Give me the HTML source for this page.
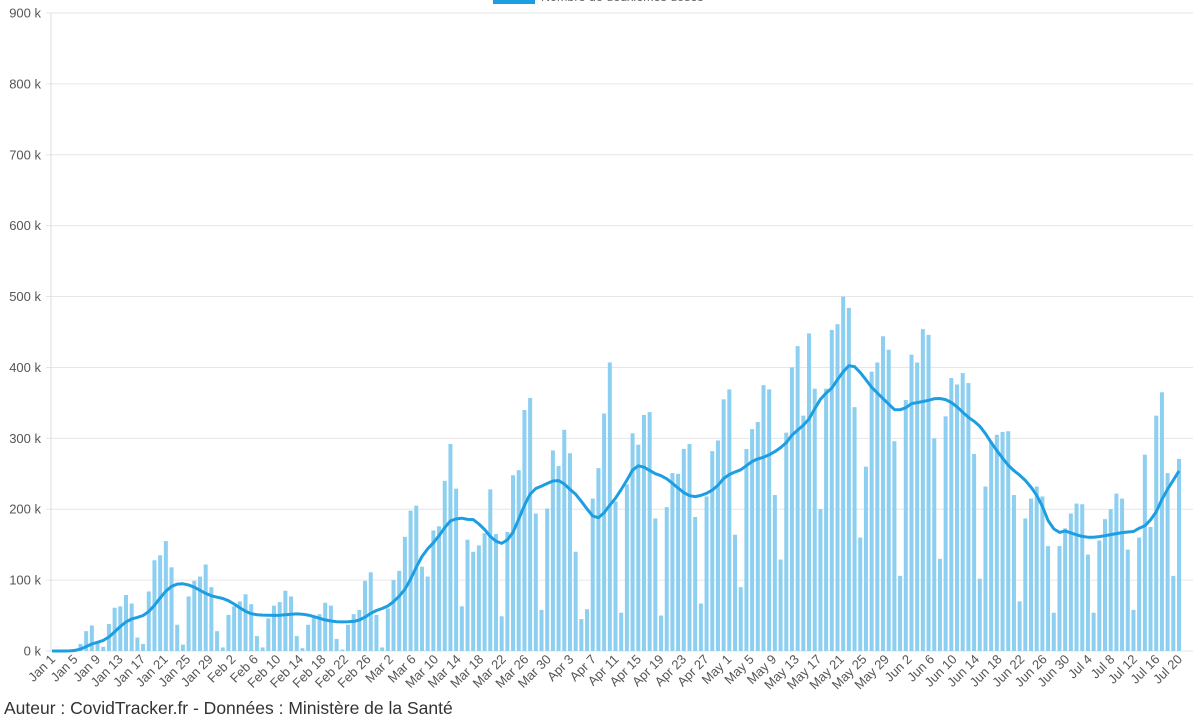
<!DOCTYPE html>
<html><head><meta charset="utf-8"><style>
html,body{margin:0;padding:0;background:#fff;width:1200px;height:720px;overflow:hidden}
svg{display:block;font-family:"Liberation Sans",Arial,sans-serif}
</style></head><body>
<svg id="c" width="1200" height="720" xmlns="http://www.w3.org/2000/svg"></svg>
<script>
var d=[0,0,0,0,3,10,28,36,11,6,38,61,63,79,67,19,10,84,128,135,155,118,37,9,77,99,105,122,90,28,5,51,63,70,80,66,21,5,46,64,69,85,77,21,4,37,47,52,68,64,17,2,37,52,58,99,111,51,5,60,100,113,161,198,205,
119,105,170,176,240,292,229,63,157,140,149,166,228,165,49,168,248,255,340,357,194,58,201,283,261,312,279,140,45,59,215,258,335,407,211,54,235,307,291,333,337,187,50,203,251,250,285,292,189,67,218,282,297,355,369,164,90,285,313,323,375,369,220,129,308,400,430,
332,448,370,200,370,453,461,500,484,344,160,260,394,407,444,425,296,106,354,418,407,454,446,300,130,331,385,376,392,378,278,102,232,295,305,309,310,220,70,187,215,232,218,148,54,148,173,194,208,207,136,54,156,186,200,222,215,143,58,160,277,175,332,365,251,106,271];
var N=d.length,x0=52,x1=1179,y0=651,k=(651-13)/900;
var s='';
for(var g=0;g<=9;g++){var y=y0-g*100*k;
s+='<line x1="46" x2="1193" y1="'+y+'" y2="'+y+'" stroke="#e6e6e6" stroke-width="1"/>';
s+='<text x="41" y="'+(y+4.5)+'" text-anchor="end" font-size="13" fill="#555">'+(g*100)+' k</text>';}
s+='<line x1="51" x2="51" y1="13" y2="651" stroke="#ddd"/>';
var sp=(x1-x0)/(N-1);
for(var i=0;i<N;i++){var x=x0+i*sp,h=d[i]*k;
s+='<rect x="'+(x-2)+'" y="'+(y0-h)+'" width="4" height="'+h+'" fill="#8ccff0"/>';}
var ma=[];
for(var i=0;i<N;i++){var a=0;for(var j=Math.max(0,i-6);j<=i;j++){a+=d[j];}ma.push(a/7);}
var sm=[];
for(var i=0;i<N;i++){var a=0,c=0;for(var j=Math.max(0,i-1);j<=Math.min(N-1,i+1);j++){a+=ma[j];c++;}sm.push(i==N-1?ma[i]:a/c);}
var p='';
for(var i=0;i<N;i++){p+=(i?'L':'M')+(x0+i*sp).toFixed(1)+' '+(y0-sm[i]*k).toFixed(1);}
s+='<path d="'+p+'" fill="none" stroke="#1e9ee2" stroke-width="3" stroke-linejoin="round"/>';
var mo=['Jan','Feb','Mar','Apr','May','Jun','Jul'],ml=[31,28,31,30,31,30,31];
var lx0=52,lsp=(1179-52)/200;
for(var dd=0;dd<=200;dd+=4){var r=dd,m=0;while(r>=ml[m]){r-=ml[m];m++;}
var lab=mo[m]+' '+(r+1),x=lx0+dd*lsp;
s+='<text transform="translate('+(x+4)+',660) rotate(-45)" text-anchor="end" font-size="13" fill="#555">'+lab+'</text>';}
s+='<rect x="493" y="-4" width="42" height="8" fill="#1e9ee2"/>';
s+='<text x="541" y="1" font-size="12.5" fill="#666">Nombre de deuxièmes doses</text>';
s+='<text x="4" y="714" font-size="17.5" fill="#333">Auteur : CovidTracker.fr - Données : Ministère de la Santé</text>';
document.getElementById('c').innerHTML=s;
</script>
</body></html>
